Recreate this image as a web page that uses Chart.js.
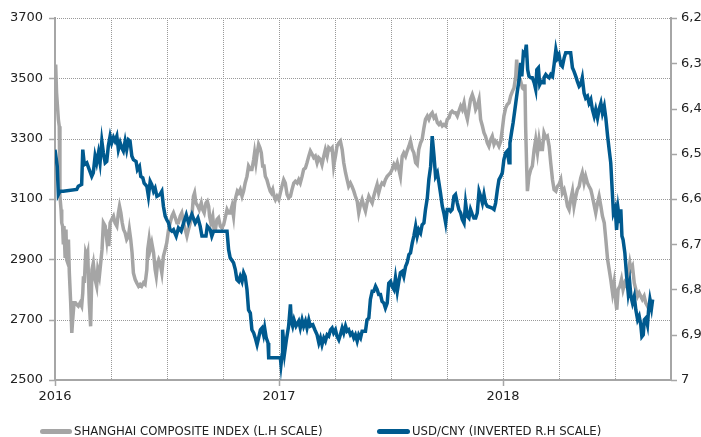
<!DOCTYPE html>
<html>
<head>
<meta charset="utf-8">
<script src="https://cdn.jsdelivr.net/npm/chart.js@4.4.1/dist/chart.umd.min.js"></script>
<style>
  body { margin: 0; background: #fff; }
  #wrap { position: relative; width: 701px; height: 437px; }
  .legend { position: absolute; top: 423px; font: 13px "DejaVu Sans Condensed", "DejaVu Sans", sans-serif; color: #222; line-height: 16px; white-space: nowrap; }
  .swatch { position: absolute; top: 429px; height: 5px; border-radius: 3px; }
</style>
</head>
<body>
<div id="wrap">
  <canvas id="chart"></canvas>
  <div class="swatch" style="left:40px;width:32px;background:#a5a5a5"></div>
  <div class="legend" style="left:74px">SHANGHAI COMPOSITE INDEX (L.H SCALE)</div>
  <div class="swatch" style="left:377px;width:33px;background:#005a8f"></div>
  <div class="legend" style="left:412px">USD/CNY (INVERTED R.H SCALE)</div>
</div>
<script>
// x values are years elapsed since 1 Jan 2016
const shT = [0.003,0.007,0.015,0.019,0.022,0.027,0.030,0.034,0.037,0.040,0.045,0.049,0.052,0.057,0.060,0.064,0.070,0.075,0.079,0.085,
  0.091,0.097,0.104,0.112,0.119,0.124,0.127,0.131,0.137,0.142,0.146,0.153,0.159,0.165,0.171,0.179,0.186,0.191,0.198,0.204,
  0.210,0.216,0.224,0.231,0.235,0.240,0.246,0.253,0.261,0.268,0.276,0.283,0.288,0.294,0.300,0.306,0.313,0.320,0.328,0.332,
  0.338,0.344,0.350,0.358,0.365,0.373,0.380,0.387,0.395,0.402,0.410,0.414,0.420,0.425,0.432,0.440,0.447,0.452,0.458,0.463,
  0.469,0.477,0.484,0.492,0.499,0.507,0.514,0.522,0.529,0.537,0.544,0.551,0.559,0.566,0.574,0.589,0.596,0.604,0.611,0.618,
  0.623,0.629,0.638,0.644,0.653,0.659,0.666,0.674,0.680,0.686,0.690,0.696,0.704,0.710,0.716,0.723,0.730,0.738,0.745,0.753,
  0.760,0.768,0.775,0.782,0.790,0.797,0.802,0.808,0.814,0.820,0.827,0.835,0.842,0.849,0.857,0.864,0.872,0.879,0.887,0.891,
  0.897,0.903,0.909,0.915,0.921,0.927,0.933,0.939,0.946,0.954,0.961,0.966,0.972,0.978,0.984,0.991,0.999,1.006,1.013,1.021,
  1.028,1.036,1.043,1.051,1.058,1.066,1.073,1.081,1.088,1.095,1.103,1.110,1.118,1.125,1.133,1.140,1.148,1.155,1.162,1.170,
  1.177,1.185,1.192,1.200,1.207,1.215,1.222,1.230,1.237,1.244,1.252,1.259,1.267,1.274,1.282,1.289,1.297,1.304,1.311,1.319,
  1.326,1.334,1.341,1.349,1.356,1.364,1.371,1.379,1.386,1.393,1.401,1.408,1.416,1.423,1.431,1.438,1.445,1.453,1.460,1.468,
  1.475,1.483,1.490,1.498,1.505,1.513,1.520,1.528,1.535,1.542,1.550,1.557,1.565,1.572,1.580,1.587,1.595,1.602,1.610,1.617,
  1.624,1.632,1.639,1.647,1.654,1.662,1.669,1.677,1.684,1.692,1.699,1.707,1.714,1.721,1.729,1.736,1.744,1.751,1.759,1.766,
  1.773,1.781,1.788,1.796,1.803,1.811,1.818,1.826,1.833,1.841,1.848,1.855,1.863,1.870,1.878,1.885,1.893,1.900,1.908,1.915,
  1.922,1.930,1.937,1.945,1.952,1.960,1.967,1.975,1.982,1.990,1.997,2.004,2.012,2.019,2.027,2.034,2.042,2.049,2.057,2.061,
  2.067,2.072,2.079,2.087,2.094,2.098,2.101,2.106,2.109,2.116,2.124,2.131,2.139,2.146,2.154,2.161,2.168,2.176,2.183,2.191,
  2.198,2.206,2.213,2.221,2.228,2.236,2.243,2.250,2.258,2.265,2.273,2.280,2.288,2.295,2.302,2.310,2.317,2.325,2.332,2.340,
  2.347,2.354,2.362,2.369,2.377,2.384,2.392,2.399,2.414,2.422,2.429,2.437,2.444,2.452,2.459,2.467,2.474,2.481,2.489,2.496,
  2.504,2.508,2.514,2.522,2.529,2.536,2.544,2.552,2.559,2.566,2.571,2.578,2.586,2.593,2.601,2.608,2.615,2.622,2.630,2.637,
  2.645,2.652,2.659,2.663];
const shanghai = [3546,3452,3364,3341,3109,3065,3021,3010,2955,3010,2910,2999,2899,2888,2966,2855,2756,2656,2700,2756,
  2756,2750,2745,2756,2745,2789,2844,2822,2922,2910,2922,2756,2678,2866,2888,2833,2811,2866,2844,2888,
  2933,3021,3010,2966,2999,2944,3021,3032,3043,3021,3010,3054,3076,3054,3021,2999,2988,2966,2977,2999,
  2966,2922,2855,2833,2822,2811,2817,2811,2822,2817,2866,2933,2966,2933,2955,2922,2866,2844,2888,2899,
  2888,2855,2910,2933,2955,2999,3021,3043,3054,3038,3021,3021,3043,3054,3021,2977,2999,3021,3043,3109,
  3120,3087,3076,3065,3087,3065,3054,3087,3093,3076,3043,3021,3043,2999,2999,3032,3038,3010,3004,3015,
  3038,3065,3054,3054,3076,3043,3087,3109,3126,3120,3131,3109,3126,3153,3175,3209,3198,3198,3231,3253,
  3220,3253,3281,3270,3253,3209,3209,3175,3164,3142,3126,3120,3131,3109,3098,3109,3098,3120,3142,3164,
  3153,3115,3104,3109,3131,3153,3159,3153,3164,3153,3175,3198,3203,3220,3242,3259,3248,3237,3242,3220,
  3237,3231,3214,3242,3264,3242,3270,3264,3270,3209,3242,3275,3286,3292,3264,3220,3187,3164,3142,3153,
  3142,3126,3109,3093,3054,3082,3098,3076,3060,3087,3109,3098,3087,3109,3131,3148,3120,3142,3153,3148,
  3164,3175,3181,3187,3198,3214,3203,3220,3198,3175,3242,3253,3242,3259,3275,3292,3264,3253,3220,3214,
  3264,3286,3297,3336,3364,3375,3364,3380,3386,3369,3375,3353,3347,3353,3342,3347,3342,3364,3369,3386,
  3391,3386,3386,3375,3391,3408,3397,3419,3386,3364,3397,3430,3446,3430,3397,3408,3430,3364,3342,3320,
  3308,3286,3275,3297,3308,3281,3292,3286,3275,3292,3331,3375,3402,3413,3419,3441,3457,3468,3507,3562,
  3507,3485,3490,3468,3463,3480,3341,3198,3126,3175,3198,3209,3264,3297,3253,3297,3264,3264,3319,3303,
  3308,3275,3220,3164,3131,3126,3142,3148,3164,3120,3131,3109,3076,3065,3098,3126,3076,3109,3131,3142,
  3170,3187,3153,3175,3153,3142,3131,3109,3054,3087,3109,3076,3043,3021,2966,2899,2866,2833,2789,2822,
  2756,2733,2800,2811,2833,2800,2822,2811,2855,2888,2866,2877,2822,2800,2778,2789,2778,2767,2778,2756,
  2745,2733,2756,2745];

const fxT = [0.000,0.010,0.015,0.022,0.037,0.097,0.104,0.119,0.124,0.131,0.142,0.153,0.164,0.171,0.179,0.186,0.194,0.201,0.209,0.216,
  0.224,0.231,0.238,0.246,0.253,0.261,0.268,0.276,0.283,0.291,0.298,0.305,0.313,0.320,0.328,0.335,0.343,0.350,0.362,0.368,
  0.377,0.383,0.392,0.398,0.410,0.417,0.425,0.432,0.440,0.447,0.455,0.469,0.477,0.484,0.492,0.499,0.507,0.514,0.522,0.529,
  0.541,0.551,0.563,0.574,0.586,0.596,0.611,0.626,0.638,0.648,0.656,0.674,0.680,0.693,0.700,0.708,0.768,0.775,0.782,0.797,
  0.805,0.812,0.820,0.827,0.835,0.842,0.849,0.857,0.864,0.872,0.879,0.887,0.894,0.902,0.909,0.917,0.924,0.931,0.936,0.943,
  0.951,0.954,1.006,1.009,1.014,1.016,1.025,1.033,1.043,1.051,1.055,1.061,1.067,1.076,1.088,1.095,1.103,1.110,1.118,1.125,
  1.133,1.140,1.151,1.160,1.170,1.178,1.185,1.192,1.200,1.207,1.215,1.222,1.230,1.237,1.244,1.252,1.259,1.267,1.274,1.282,
  1.289,1.297,1.304,1.311,1.319,1.326,1.334,1.341,1.349,1.356,1.364,1.371,1.386,1.393,1.401,1.408,1.416,1.423,1.431,1.438,
  1.445,1.453,1.460,1.468,1.475,1.483,1.490,1.498,1.505,1.513,1.520,1.528,1.535,1.542,1.550,1.557,1.565,1.572,1.580,1.587,
  1.595,1.602,1.610,1.617,1.624,1.632,1.639,1.647,1.654,1.662,1.669,1.677,1.684,1.692,1.699,1.707,1.714,1.721,1.729,1.736,
  1.744,1.751,1.759,1.766,1.773,1.781,1.788,1.796,1.803,1.811,1.818,1.826,1.833,1.841,1.848,1.855,1.863,1.870,1.878,1.885,
  1.893,1.900,1.908,1.915,1.922,1.930,1.952,1.960,1.967,1.975,1.982,1.990,1.997,2.004,2.012,2.019,2.027,2.031,2.039,2.045,
  2.051,2.057,2.064,2.072,2.079,2.084,2.091,2.098,2.104,2.110,2.116,2.124,2.131,2.139,2.146,2.151,2.158,2.164,2.171,2.179,
  2.183,2.191,2.198,2.206,2.213,2.221,2.228,2.236,2.243,2.250,2.258,2.265,2.273,2.280,2.302,2.310,2.317,2.325,2.332,2.340,
  2.347,2.354,2.362,2.369,2.377,2.384,2.392,2.399,2.407,2.414,2.422,2.429,2.437,2.444,2.452,2.459,2.467,2.474,2.481,2.489,
  2.493,2.501,2.507,2.514,2.522,2.526,2.531,2.536,2.544,2.552,2.559,2.566,2.571,2.578,2.586,2.593,2.601,2.608,2.615,2.620,
  2.626,2.631,2.638,2.645,2.650,2.656,2.663,2.668];
const usdCny = [6.491,6.528,6.590,6.583,6.583,6.579,6.572,6.568,6.491,6.524,6.520,6.535,6.550,6.542,6.505,6.520,6.498,6.520,6.472,6.498,
  6.520,6.517,6.483,6.461,6.476,6.464,6.472,6.461,6.491,6.476,6.487,6.494,6.472,6.491,6.469,6.472,6.505,6.513,6.517,6.535,
  6.528,6.550,6.553,6.565,6.572,6.594,6.561,6.568,6.583,6.576,6.594,6.590,6.583,6.616,6.638,6.646,6.653,6.668,6.671,6.668,
  6.682,6.664,6.671,6.653,6.635,6.653,6.634,6.653,6.642,6.660,6.682,6.682,6.660,6.668,6.682,6.671,6.671,6.712,6.730,6.741,
  6.756,6.778,6.782,6.771,6.782,6.763,6.771,6.800,6.845,6.852,6.889,6.896,6.907,6.922,6.907,6.889,6.885,6.900,6.885,6.907,
  6.918,6.951,6.951,6.966,6.944,6.889,6.940,6.911,6.881,6.833,6.870,6.881,6.867,6.881,6.870,6.885,6.867,6.881,6.870,6.885,
  6.867,6.881,6.878,6.889,6.900,6.918,6.907,6.922,6.907,6.914,6.900,6.903,6.889,6.885,6.896,6.889,6.903,6.911,6.900,6.885,
  6.896,6.881,6.892,6.889,6.900,6.896,6.907,6.900,6.914,6.900,6.907,6.892,6.892,6.867,6.863,6.822,6.804,6.804,6.793,6.800,
  6.811,6.811,6.826,6.830,6.841,6.830,6.786,6.782,6.793,6.800,6.774,6.804,6.782,6.763,6.760,6.771,6.749,6.741,6.723,6.719,
  6.697,6.682,6.660,6.682,6.668,6.675,6.657,6.653,6.623,6.598,6.557,6.528,6.461,6.505,6.550,6.542,6.564,6.587,6.616,6.631,
  6.653,6.623,6.623,6.627,6.623,6.594,6.590,6.609,6.623,6.631,6.645,6.653,6.609,6.638,6.642,6.623,6.634,6.642,6.642,6.631,
  6.583,6.594,6.609,6.590,6.609,6.616,6.620,6.623,6.609,6.579,6.557,6.550,6.542,6.513,6.498,6.494,6.520,6.476,6.450,6.432,
  6.410,6.388,6.362,6.336,6.299,6.329,6.277,6.281,6.259,6.314,6.329,6.332,6.332,6.343,6.358,6.314,6.310,6.347,6.340,6.343,
  6.332,6.325,6.329,6.332,6.325,6.329,6.303,6.270,6.288,6.281,6.303,6.307,6.288,6.277,6.277,6.310,6.318,6.329,6.340,6.351,
  6.347,6.332,6.366,6.377,6.373,6.388,6.380,6.402,6.417,6.402,6.421,6.402,6.388,6.410,6.395,6.421,6.461,6.491,6.520,6.594,
  6.631,6.620,6.668,6.623,6.653,6.623,6.682,6.690,6.719,6.771,6.808,6.786,6.815,6.830,6.815,6.845,6.867,6.859,6.878,6.904,
  6.900,6.867,6.863,6.878,6.845,6.822,6.841,6.822];

const startYear = 2016;
const xMax = 2018.75;
const leftTicks = { min: 2500, max: 3700, step: 200 };
const rightTicks = { min: 6.2, max: 7, step: 0.1 };

const axisGrey = '#a6a6a6';
const gridGrey = '#999999';
const clear = 'rgba(0,0,0,0)';

Chart.defaults.font.family = 'DejaVu Sans';
Chart.defaults.font.size = 13;
Chart.defaults.color = '#222';

const toPoints = (ts, vals) => ts.map((t, i) => ({ x: startYear + t, y: vals[i] }));

// dotted grid + small outside tick marks, placed from the chart's own scales
const dottedGrid = {
  id: 'dottedGrid',
  beforeDatasetsDraw(chart) {
    const { ctx, chartArea: a } = chart;
    const x = chart.scales.x, y = chart.scales.y, y1 = chart.scales.y1;
    const line = (ax, ay, bx, by) => { ctx.beginPath(); ctx.moveTo(ax, ay); ctx.lineTo(bx, by); ctx.stroke(); };
    ctx.save();
    ctx.lineWidth = 1;
    ctx.strokeStyle = gridGrey;
    ctx.setLineDash([1, 1]);
    x.ticks.forEach(t => {
      if (t.value <= x.min || t.value >= x.max) return;
      const px = Math.round(x.getPixelForValue(t.value)) + 0.5;
      line(px, a.top, px, a.bottom);
    });
    y.ticks.forEach(t => {
      if (t.value <= y.min) return;
      const py = Math.round(y.getPixelForValue(t.value)) + 0.5;
      line(a.left, py, a.right, py);
    });
    ctx.setLineDash([]);
    ctx.strokeStyle = axisGrey;
    ctx.lineWidth = 1.5;
    y.ticks.forEach(t => {
      const py = Math.round(y.getPixelForValue(t.value)) + 0.5;
      line(a.left - 6, py, a.left, py);
    });
    y1.ticks.forEach(t => {
      const py = Math.round(y1.getPixelForValue(t.value)) + 0.5;
      line(a.right, py, a.right + 6, py);
    });
    x.ticks.forEach(t => {
      if (!Number.isInteger(t.value)) return;
      const px = Math.round(x.getPixelForValue(t.value)) + 0.5;
      line(px, a.bottom, px, a.bottom + 6);
    });
    ctx.restore();
  }
};

new Chart(document.getElementById('chart'), {
  type: 'line',
  data: {
    datasets: [
      {
        label: 'SHANGHAI COMPOSITE INDEX (L.H SCALE)',
        data: toPoints(shT, shanghai),
        yAxisID: 'y',
        borderColor: '#a5a5a5',
        borderWidth: 3.5,
        pointRadius: 0,
        tension: 0,
        order: 2
      },
      {
        label: 'USD/CNY (INVERTED R.H SCALE)',
        data: toPoints(fxT, usdCny),
        yAxisID: 'y1',
        borderColor: '#005a8f',
        borderWidth: 3.5,
        pointRadius: 0,
        tension: 0,
        order: 1
      }
    ]
  },
  plugins: [dottedGrid],
  options: {
    responsive: true,
    maintainAspectRatio: false,
    animation: false,
    layout: { padding: { top: 18, bottom: 26, left: 0, right: 0 } },
    plugins: { legend: { display: false }, tooltip: { enabled: false } },
    scales: {
      x: {
        type: 'linear',
        min: startYear,
        max: xMax,
        afterFit: s => { s.height = 31; },
        ticks: {
          stepSize: 0.25,
          autoSkip: false,
          maxRotation: 0,
          maxTicksLimit: 20,
          padding: 4,
          callback: v => Number.isInteger(v) ? String(v) : ''
        },
        grid: { color: clear, tickLength: 5, tickColor: clear },
        border: { color: axisGrey, width: 2 }
      },
      y: {
        position: 'left',
        min: leftTicks.min,
        max: leftTicks.max,
        afterFit: s => { s.width = 55; },
        ticks: { stepSize: leftTicks.step, padding: 7, callback: v => String(v) },
        grid: { color: clear, tickLength: 5, tickColor: clear },
        border: { color: axisGrey, width: 2 }
      },
      y1: {
        position: 'right',
        reverse: true,
        min: rightTicks.min,
        max: rightTicks.max,
        afterFit: s => { s.width = 30; },
        ticks: {
          stepSize: rightTicks.step,
          padding: 5,
          callback: v => String(Math.round(v * 10) / 10).replace('.', ',')
        },
        grid: { drawOnChartArea: false, tickLength: 5, tickColor: clear },
        border: { color: axisGrey, width: 2 }
      }
    }
  }
});
</script>
</body>
</html>
